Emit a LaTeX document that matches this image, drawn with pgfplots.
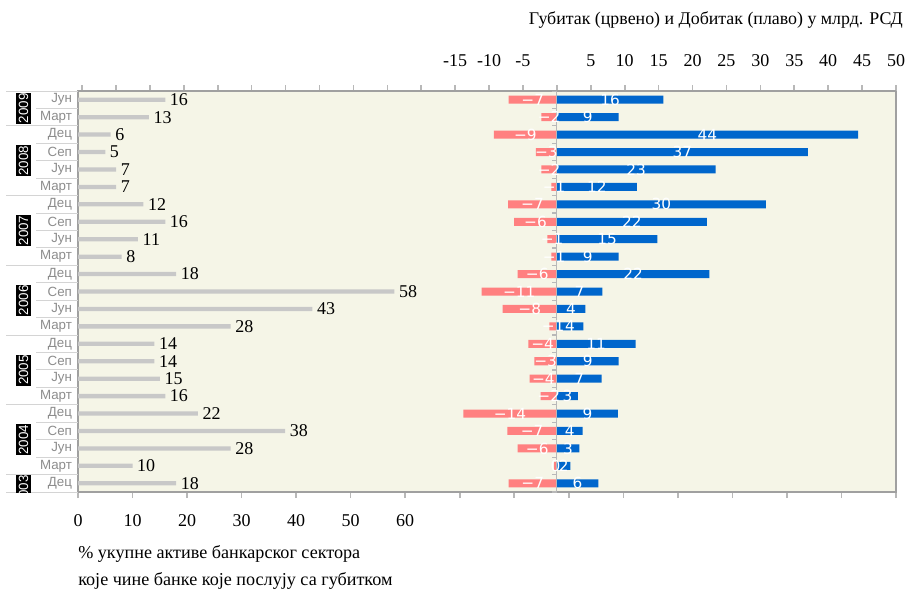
\documentclass[border=0pt]{standalone}
\usepackage{fontspec}
\setmainfont{Liberation Serif}
\newfontfamily\sansf{Liberation Sans}
\newfontfamily\dejavu{DejaVu Sans}
\usepackage{pgfplots}
\usepackage{pgfplotstable}
\pgfplotsset{compat=1.18}

\definecolor{bgbeige}{HTML}{F5F5E7}
\definecolor{lossred}{HTML}{FF8080}
\definecolor{gainblue}{HTML}{0066CC}
\definecolor{barGray}{HTML}{C8C8C8}
\definecolor{frameGray}{HTML}{A0A0A0}
\definecolor{tickGray}{HTML}{B8B8B8}
\definecolor{monthGray}{HTML}{8C8C8C}
\definecolor{sepGray}{HTML}{D4D4D4}

% row 1 = Jun 2009 (top) ... row 23 = Dec 2003 (bottom)
\pgfplotstableread{
row share loss  gain lossl gainl
1   16   -7.1  15.7  −7   16
2   13   -2.3   9.1  −2   9
3   6    -9.3  44.4  −9   44
4   5    -3.1  37.0  −3   37
5   7    -2.3  23.4  −2   23
6   7    -0.8  11.8  −1   12
7   12   -7.2  30.8  −7   30
8   16   -6.3  22.1  −6   22
9   11   -1.4  14.8  −1   15
10  8    -0.8   9.1  −1   9
11  18   -5.8  22.5  −6   22
12  58  -11.1   6.7  −11  7
13  43   -8.0   4.2  −8   4
14  28   -1.1   3.9  −1   4
15  14   -4.2  11.6  −4   11
16  14   -3.3   9.1  −3   9
17  15   -4.0   6.6  −4   7
18  16   -2.4   3.1  −2   3
19  22  -13.8   9.0  −14  9
20  38   -7.3   3.8  −7   4
21  28   -5.8   3.3  −6   3
22  10   -0.4   2.0  0    2
23  18   -7.1   6.1  −7   6
}\datatab

\begin{document}
\begin{tikzpicture}
% left panel: share of banking sector assets
\begin{axis}[
    at={(58.5pt,-369pt)}, anchor=south west,
    scale only axis, width=613.5pt, height=300.75pt,
    xmin=0, xmax=150, ymin=0.5, ymax=23.5, y dir=reverse,
    axis background/.style={fill=bgbeige},
    axis line style={draw=frameGray, line width=1.2pt},
    xtick={0,10,...,150},
    xticklabels={0,10,20,30,40,50,60,,,,,,,,,},
    xtick pos=bottom, tick align=outside,
    major tick length=4.5pt,
    x tick style={draw=tickGray, line width=1.2pt},
    xticklabel style={font=\fontsize{13.5}{15}\selectfont, yshift=-9pt},
    ytick={1,...,23},
    yticklabels={Јун,Март,Дец,Сеп,Јун,Март,Дец,Сеп,Јун,Март,Дец,Сеп,Јун,Март,Дец,Сеп,Јун,Март,Дец,Сеп,Јун,Март,Дец},
    y tick style={draw=none},
    yticklabel style={font=\sansf\fontsize{10}{12}\selectfont, text=monthGray, xshift=3.5pt},
]
\addplot[xbar, bar width=3.2pt, bar shift=0pt, fill=barGray, draw=none,
    nodes near coords, point meta=explicit symbolic,
    every node near coord/.append style={font=\fontsize{13.5}{15}\selectfont, text=black, anchor=west}]
    table[x=share, y=row, meta=share] {\datatab};
\end{axis}

% right panel: loss (red) and profit (blue)
\begin{axis}[
    at={(58.5pt,-369pt)}, anchor=south west,
    scale only axis, width=613.5pt, height=300.75pt,
    xmin=-70.6, xmax=50, ymin=0.5, ymax=23.5, y dir=reverse,
    axis x line*=top, axis y line=none,
    axis line style={draw=frameGray, line width=1.2pt},
    xtick={-70,-65,...,50},
    xticklabels={,,,,,,,,,,,-15,-10,-5,,5,10,15,20,25,30,35,40,45,50},
    tick align=outside, major tick length=4.5pt,
    x tick style={draw=tickGray, line width=1.2pt},
    xticklabel style={font=\fontsize{13.5}{15}\selectfont, yshift=10pt},
    ytick=\empty,
]
\addplot[xbar, bar width=6pt, bar shift=0pt, fill=lossred, draw=none]
    table[x=loss, y=row] {\datatab};
\addplot[xbar, bar width=6pt, bar shift=0pt, fill=gainblue, draw=none]
    table[x=gain, y=row] {\datatab};
\draw[tickGray, line width=0.9pt] (axis cs:0,0.5) -- (axis cs:0,23.5);
\pgfplotsinvokeforeach{0,...,23}{
    \draw[tickGray, line width=0.9pt] (axis cs:0,#1+0.5) -- ++(-4pt,0pt);
}
\addplot[draw=none, nodes near coords, point meta=explicit symbolic,
    every node near coord/.append style={anchor=center, text=white, font=\dejavu\fontsize{11.5}{12}\selectfont}]
    table[x expr=\thisrow{loss}/2, y=row, meta=lossl] {\datatab};
\addplot[draw=none, nodes near coords, point meta=explicit symbolic,
    every node near coord/.append style={anchor=center, text=white, font=\dejavu\fontsize{11.5}{12}\selectfont}]
    table[x expr=\thisrow{gain}/2, y=row, meta=gainl] {\datatab};
\end{axis}

% annotations in pixel units of the reference
\begin{scope}[x=0.75pt, y=-0.75pt]
\node[anchor=east, font=\fontsize{13.4}{15}\selectfont, inner sep=0pt] at (903,20)
    {Губитак (црвено) и Добитак (плаво) у млрд. РСД};
\node[anchor=west, font=\fontsize{13.6}{15}\selectfont, inner sep=0pt] at (78,554)
    {\% укупне активе банкарског сектора};
\node[anchor=west, font=\fontsize{13.6}{15}\selectfont, inner sep=0pt] at (78,581)
    {које чине банке које послују са губитком};
% row separators
\foreach \k in {1,3,4,5,7,8,9,11,12,13,15,16,17,19,20,21}
    \draw[sepGray, line width=0.75pt] (36,91+17.435*\k) -- (78,91+17.435*\k);
\foreach \k in {0,2,6,10,14,18,22,23}
    \draw[sepGray, line width=0.75pt] (6,91+17.435*\k) -- (78,91+17.435*\k);
% year labels
\foreach \yr/\a/\b/\c in {2009/91/125.87/108.4, 2008/125.87/195.61/160.7,
    2007/195.61/265.35/230.5, 2006/265.35/335.09/300.2, 2005/335.09/404.83/370,
    2004/404.83/474.57/439.7, 2003/474.57/492/490}{
  \begin{scope}
    \clip (0,\a) rectangle (40,\b);
    \node[fill=black, text=white, rotate=90, inner xsep=0.5pt, inner ysep=2.2pt,
          font=\sansf\fontsize{10}{12}\selectfont] at (23.5,\c) {\yr};
  \end{scope}
}
\end{scope}
\pgfresetboundingbox
\path[use as bounding box] (0,0) rectangle (679.5pt,-441.75pt);
\end{tikzpicture}
\end{document}
